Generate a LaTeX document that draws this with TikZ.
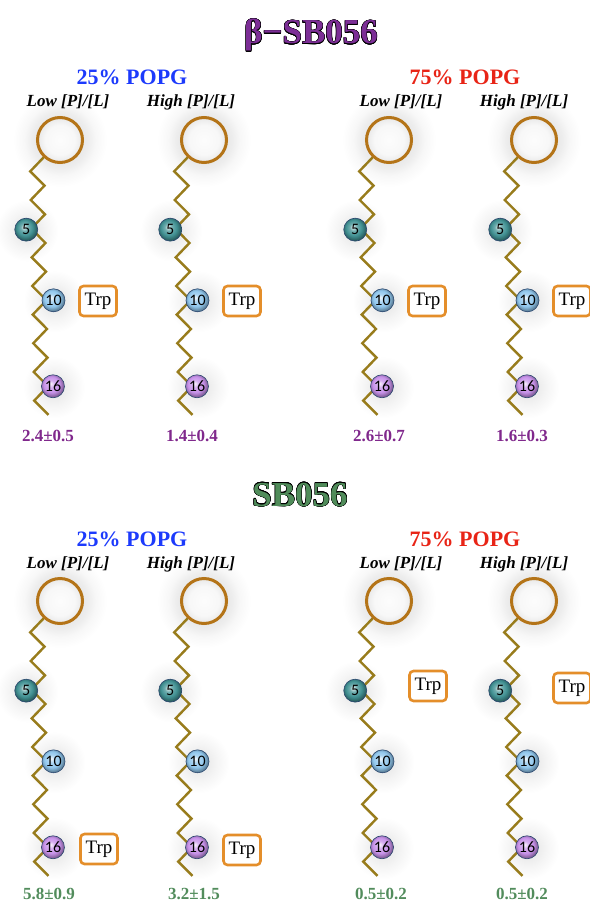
\documentclass[tikz,border=0pt]{standalone}
\usepackage{fontspec}
\setmainfont{Liberation Serif}
\newfontfamily\beadfont{Carlito}
\usepackage{xcolor}
\usepackage{contour}
\usetikzlibrary{positioning,calc}
\contourlength{0.4pt}

\definecolor{ringbrown}{RGB}{180,116,24}
\definecolor{chainolive}{RGB}{152,124,28}
\definecolor{trporange}{RGB}{228,142,42}
\definecolor{betapurple}{RGB}{124,46,150}
\definecolor{valpurple}{RGB}{128,40,140}
\definecolor{sbgreen}{RGB}{80,140,90}
\definecolor{valgreen}{RGB}{82,140,92}
\definecolor{popgblue}{RGB}{28,58,252}
\definecolor{popgred}{RGB}{232,36,22}
\definecolor{beadteal}{RGB}{66,146,148}
\definecolor{beadblue}{RGB}{146,200,238}
\definecolor{beadviolet}{RGB}{200,146,234}
\definecolor{beadedge}{RGB}{40,70,110}
\colorlet{beadtone}{beadblue}

% soft glows under the head groups and the beads
\pgfdeclareradialshading{ringglow}{\pgfpoint{0bp}{0bp}}{color(0bp)=(black!1); color(8bp)=(black!3); color(12bp)=(black!9); color(15bp)=(black!7); color(19bp)=(black!3); color(25bp)=(white); color(50bp)=(white)}
\pgfdeclareradialshading{beadglow}{\pgfpoint{0bp}{0bp}}{color(0bp)=(black!9); color(9bp)=(black!7); color(15bp)=(black!4); color(25bp)=(white); color(50bp)=(white)}
% glossy bead, lit from the upper left
\pgfdeclareradialshading[beadtone]{beadball}{\pgfpoint{-5bp}{6bp}}{color(0bp)=(beadtone!10!white); color(8bp)=(beadtone!75!white); color(17bp)=(beadtone); color(23bp)=(beadtone!75!black); color(25bp)=(beadtone!65!black); color(50bp)=(beadtone!65!black)}

% one lipid: #1 name, (#2,#3) centre of the head group
\newcommand{\lipid}[3]{%
  \foreach \i in {0,...,18}{
    \pgfmathsetmacro\vx{#2-16+0.25*\i-14*mod(\i,2)}
    \pgfmathsetmacro\vy{#3+17+14.33*\i}
    \coordinate (#1-v\i) at (\vx,\vy);
  }
  \coordinate (#1-c5) at ($(#1-v5)+(-5,1)$);
  \coordinate (#1-c10) at ($(#1-v10)+(7,0)$);
  \coordinate (#1-c16) at ($(#1-v16)+(5,0)$);
  \shade[shading=ringglow] (#2,#3) circle[radius=47];
  \foreach \c in {c5,c10,c16}
    \shade[shading=beadglow] ($(#1-\c)+(1,1)$) circle[radius=31];
  \draw[tail] (#1-v0) \foreach \i in {1,...,18}{ -- (#1-v\i)};
  \node[headring] (#1-head) at (#2,#3) {};
  \node[bead=beadteal] (#1-b5) at (#1-c5) {5};
  \node[bead=beadblue] (#1-b10) at (#1-c10) {10};
  \node[bead=beadviolet] (#1-b16) at (#1-c16) {16};
}

\begin{document}
\begin{tikzpicture}[x=1pt,y=-1pt,
    headring/.style={circle,draw=ringbrown,line width=3pt,minimum size=45pt,inner sep=0pt},
    tail/.style={draw=chainolive,line width=2.4pt,line join=miter},
    bead/.style={circle,/utils/exec={\colorlet{beadtone}{#1}},shade,shading=beadball,
      draw=beadedge,line width=0.6pt,minimum size=23pt,inner sep=0pt,
      font=\beadfont\fontsize{16}{16}\selectfont},
    trpbox/.style={draw=trporange,line width=2.6pt,rounded corners=4pt,fill=white,minimum width=37pt,minimum height=30pt,inner sep=0pt,font=\fontsize{19}{19}\selectfont},
    title/.style={anchor=base,font=\fontsize{35}{40}\selectfont\bfseries},
    popg/.style={anchor=base,font=\fontsize{22}{24}\selectfont\bfseries},
    ratio/.style={anchor=base,font=\fontsize{17}{19}\selectfont\bfseries\itshape},
    value/.style={anchor=base,font=\fontsize{17}{19}\selectfont\bfseries}]
  \useasboundingbox (0,0) rectangle (589,904);

  % beta-SB056
  \lipid{b25lo}{60}{140}
  \lipid{b25hi}{204}{140}
  \lipid{b75lo}{389}{140}
  \lipid{b75hi}{534}{140}

  \node[title,text=betapurple] (betatitle) at (311,44) {\contour{black}{β−SB056}};
  \node[popg,text=popgblue] (b25) at (132,85) {25\% POPG};
  \node[popg,text=popgred] (b75) at (465,85) {75\% POPG};
  \node[ratio] (b25lo-r) at (68,107) {Low [P]/[L]};
  \node[ratio] (b25hi-r) at (191,107) {High [P]/[L]};
  \node[ratio] (b75lo-r) at (401,107) {Low [P]/[L]};
  \node[ratio] (b75hi-r) at (524,107) {High [P]/[L]};

  \node[trpbox] (b25lo-trp) at (98,301) {Trp};
  \node[trpbox] (b25hi-trp) at (242,301) {Trp};
  \node[trpbox] (b75lo-trp) at (427,301) {Trp};
  \node[trpbox] (b75hi-trp) at (572,301) {Trp};

  \node[value,text=valpurple] (b25lo-val) at (48,441) {2.4±0.5};
  \node[value,text=valpurple] (b25hi-val) at (192,441) {1.4±0.4};
  \node[value,text=valpurple] (b75lo-val) at (379,441) {2.6±0.7};
  \node[value,text=valpurple] (b75hi-val) at (522,441) {1.6±0.3};

  % SB056
  \lipid{s25lo}{60}{601}
  \lipid{s25hi}{204}{601}
  \lipid{s75lo}{389}{601}
  \lipid{s75hi}{534}{601}

  \node[title,text=sbgreen] (sbtitle) at (300,506) {\contour{black}{SB056}};
  \node[popg,text=popgblue] (s25) at (132,546) {25\% POPG};
  \node[popg,text=popgred] (s75) at (465,546) {75\% POPG};
  \node[ratio] (s25lo-r) at (68,568) {Low [P]/[L]};
  \node[ratio] (s25hi-r) at (191,568) {High [P]/[L]};
  \node[ratio] (s75lo-r) at (401,568) {Low [P]/[L]};
  \node[ratio] (s75hi-r) at (524,568) {High [P]/[L]};

  \node[trpbox] (s25lo-trp) at (99,849) {Trp};
  \node[trpbox] (s25hi-trp) at (242,850) {Trp};
  \node[trpbox] (s75lo-trp) at (428,686) {Trp};
  \node[trpbox] (s75hi-trp) at (572,688) {Trp};

  \node[value,text=valgreen] (s25lo-val) at (49,899) {5.8±0.9};
  \node[value,text=valgreen] (s25hi-val) at (194,899) {3.2±1.5};
  \node[value,text=valgreen] (s75lo-val) at (381,899) {0.5±0.2};
  \node[value,text=valgreen] (s75hi-val) at (522,899) {0.5±0.2};
\end{tikzpicture}
\end{document}
